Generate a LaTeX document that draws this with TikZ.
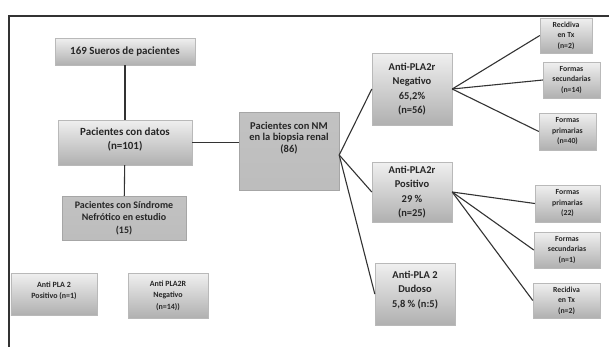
\documentclass[tikz,border=0pt]{standalone}
\usepackage{fontspec}
\setmainfont{Carlito}
\usetikzlibrary{positioning}

\begin{document}
\begin{tikzpicture}[
  x=1bp, y=-1bp,
  box/.style={draw=gray!55, top color=gray!12, bottom color=gray!62,
              align=center, inner sep=1pt, text=black!85,
              font=\bfseries\fontsize{11}{14.5}\selectfont},
  flat/.style={box, draw=gray!70, top color=gray!48, bottom color=gray!52},
  mid/.style={box, font=\bfseries\fontsize{10.5}{14.5}\selectfont},
  low/.style={box, font=\bfseries\fontsize{8}{11.5}\selectfont},
  tip/.style={box, font=\bfseries\fontsize{7.8}{10.5}\selectfont},
  every edge/.style={draw, gray!40!black, line width=1.1bp}
]
  \useasboundingbox (0,0) rectangle (609,346);
  \begin{scope}
    \clip (0,0) rectangle (609,346);
    \draw[line width=2bp, black!80] (9,360) -- (9,16) -- (620,16);
  \end{scope}

  % left column
  \node[box, minimum width=140bp, minimum height=27bp] (sueros) at (125,51.5)
    {169 Sueros de pacientes};
  \node[box, minimum width=134bp, minimum height=45bp, text depth=8bp] (datos) at (125,142.5)
    {Pacientes con datos\\(n=101)};
  \node[flat, font=\bfseries\fontsize{10}{12.5}\selectfont,
        minimum width=124bp, minimum height=44bp] (sindrome) at (124,218)
    {Pacientes con Síndrome\\Nefrótico en estudio\\(15)};
  \node[low, minimum width=86bp, minimum height=42bp, text depth=8bp] (pos1) at (54,294)
    {Anti PLA 2\\Positivo (n=1)};
  \node[low, minimum width=80bp, minimum height=45bp] (neg14) at (168,295.5)
    {Anti PLA2R\\Negativo\\(n=14))};

  % centre
  \node[flat, font=\bfseries\fontsize{10.5}{11.5}\selectfont,
        minimum width=100bp, minimum height=78bp, text depth=28bp] (nm) at (289,151)
    {Pacientes con NM\\en la biopsia renal\\(86)};

  % results
  \node[mid, minimum width=80bp, minimum height=72bp] (neg) at (412,89)
    {Anti-PLA2r\\Negativo\\65,2\%\\(n=56)};
  \node[mid, minimum width=80bp, minimum height=60bp] (pos) at (412,192)
    {Anti-PLA2r\\Positivo\\29 \%\\(n=25)};
  \node[mid, minimum width=80bp, minimum height=62bp, text depth=10bp] (dud) at (415,294)
    {Anti-PLA 2\\Dudoso\\5,8 \% (n:5)};

  % subgroups
  \node[tip, minimum width=52bp, minimum height=35bp] (rec1) at (566,35.5)
    {Recidiva\\en Tx\\(n=2)};
  \node[tip, minimum width=57bp, minimum height=36bp] (sec1) at (571.5,80)
    {Formas\\secundarias\\(n=14)};
  \node[tip, minimum width=57bp, minimum height=37bp] (prim1) at (567.5,131.5)
    {Formas\\primarias\\(n=40)};
  \node[tip, minimum width=65bp, minimum height=37bp] (prim2) at (567.5,203.5)
    {Formas\\primarias\\(22)};
  \node[tip, minimum width=66bp, minimum height=36bp] (sec2) at (567,250)
    {Formas\\secundarias\\(n=1)};
  \node[tip, minimum width=67bp, minimum height=35bp] (rec2) at (566.5,300.5)
    {Recidiva\\en Tx\\(n=2)};

  \coordinate (fan) at ([yshift=-4bp]nm.east);

  \draw (sueros) edge (datos);
  \draw (datos) edge (sindrome);
  \draw (datos.east) edge (datos.east -| nm.west);
  \draw (fan) edge (neg.west);
  \draw (fan) edge (pos.west);
  \draw (fan) edge (dud.west);
  \draw (neg.east) edge (rec1.west);
  \draw (neg.east) edge (sec1.west);
  \draw (neg.east) edge (prim1.west);
  \draw (pos.east) edge (prim2.west);
  \draw (pos.east) edge (sec2.west);
  \draw (pos.east) edge (rec2.west);
\end{tikzpicture}
\end{document}
